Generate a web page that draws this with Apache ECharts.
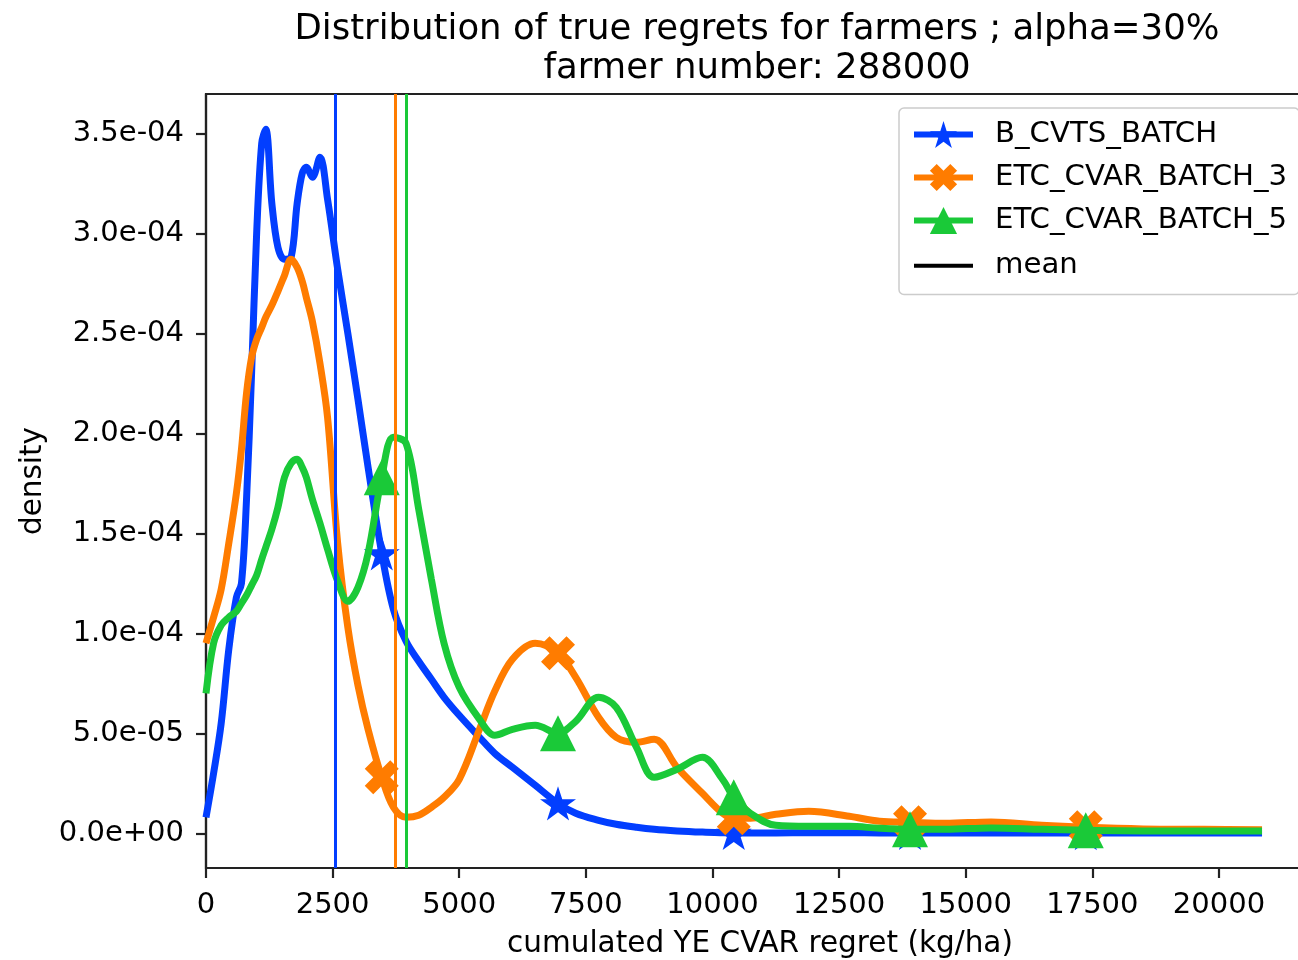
<!DOCTYPE html>
<html>
<head>
<meta charset="utf-8">
<title>Distribution of true regrets for farmers</title>
<script src="https://cdn.jsdelivr.net/npm/echarts@6/dist/echarts.min.js"></script>
<style>
    html, body { margin: 0; padding: 0; background: #fff; }
    #main { width: 1298px; height: 960px; }
</style>
</head>
<body>
<div id="main"></div>
<script>
// regret grid (kg/ha) where the densities were read
var regretX = [0, 150, 300, 450, 600, 700, 800, 900, 1000, 1100, 1180, 1300, 1420, 1550, 1680, 1800, 1900, 1980,
    2100, 2250, 2400, 2600, 2800, 3000, 3200, 3470, 3700, 3950, 4200, 4450, 4700, 5000, 5400, 5700, 6050, 6500,
    6950, 7300, 7750, 8100, 8500, 8850, 9300, 9800, 10200, 10420, 10750, 11250, 11900, 12700, 13300, 13900,
    14600, 15500, 16500, 17370, 18500, 19700, 20850];

// densities, in units of 1e-4
var densityBCvts = [0.08, 0.30, 0.55, 0.92, 1.18, 1.25, 1.67, 2.30, 3.00, 3.45, 3.52, 3.15, 2.93, 2.87, 2.88, 3.15,
    3.30, 3.33, 3.28, 3.38, 3.17, 2.82, 2.50, 2.17, 1.83, 1.40, 1.12, 0.96, 0.86, 0.77, 0.68, 0.59, 0.48, 0.40,
    0.33, 0.24, 0.15, 0.10, 0.065, 0.045, 0.03, 0.02, 0.012, 0.006, 0.003, 0.002, 0.002, 0.002, 0.003, 0.003,
    0.002, 0.002, 0.002, 0.002, 0.001, 0.001, 0.001, 0.001, 0.001];
var densityEtc3 = [0.95, 1.08, 1.22, 1.45, 1.70, 1.92, 2.20, 2.38, 2.47, 2.53, 2.58, 2.64, 2.71, 2.79, 2.87, 2.83,
    2.76, 2.68, 2.56, 2.35, 2.08, 1.45, 1.03, 0.74, 0.52, 0.28, 0.13, 0.08, 0.09, 0.13, 0.18, 0.27, 0.52, 0.71,
    0.87, 0.95, 0.90, 0.78, 0.58, 0.48, 0.455, 0.47, 0.33, 0.20, 0.10, 0.075, 0.075, 0.095, 0.11, 0.085, 0.06,
    0.055, 0.05, 0.057, 0.04, 0.03, 0.022, 0.02, 0.018];
var densityEtc5 = [0.70, 0.95, 1.04, 1.08, 1.11, 1.15, 1.19, 1.24, 1.29, 1.37, 1.43, 1.52, 1.63, 1.78, 1.85, 1.87,
    1.83, 1.78, 1.67, 1.55, 1.42, 1.26, 1.16, 1.23, 1.40, 1.78, 1.98, 1.95, 1.62, 1.27, 0.95, 0.73, 0.57, 0.49,
    0.52, 0.54, 0.50, 0.56, 0.68, 0.63, 0.43, 0.28, 0.32, 0.38, 0.27, 0.18, 0.10, 0.04, 0.035, 0.035, 0.025,
    0.02, 0.02, 0.027, 0.02, 0.015, 0.012, 0.012, 0.012];

// mean regret of each algorithm
var meanBCvts = 2551;
var meanEtc3 = 3741;
var meanEtc5 = 3959;

// points that carry a marker
var markerX = [3470, 6950, 10420, 13900, 17370];

var xTicks = [0, 2500, 5000, 7500, 10000, 12500, 15000, 17500, 20000];
var yTicks = [0, 0.5, 1.0, 1.5, 2.0, 2.5, 3.0, 3.5];

var blue = '#023eff', orange = '#ff7c00', green = '#1ac938';
var font = 'DejaVu Sans';
var starPath = 'path://M0,-1 L0.2245,-0.309 L0.951,-0.309 L0.363,0.118 L0.588,0.809 L0,0.382 L-0.588,0.809 L-0.363,0.118 L-0.951,-0.309 L-0.2245,-0.309 Z';
var crossPath = 'path://M2,-4 L0,-2 L-2,-4 L-4,-2 L-2,0 L-4,2 L-2,4 L0,2 L2,4 L4,2 L2,0 L4,-2 Z';
var meanIcon = 'path://M0,0 L0.1,0 L0.1,0.1 Z M0,15 L60,15 L60,19 L0,19 Z M0,34 L0.1,34 L0.1,33.9 Z';

function toPairs(ys) {
    return regretX.map(function (x, i) {
        return [x, ys[i] * 1e-4];
    });
}

function markerSize(size) {
    return function (v) {
        return markerX.indexOf(v[0]) >= 0 ? size : 0;
    };
}

function sci(v) {
    return v.toExponential(1).replace(/e([+-])(\d)$/, 'e$10$2');
}

function curve(name, ys, color, symbol, size, z) {
    return {
        name: name,
        type: 'line',
        z: z,
        smooth: 0.35,
        data: toPairs(ys),
        symbol: symbol,
        symbolKeepAspect: true,
        symbolSize: markerSize(size),
        showSymbol: true,
        lineStyle: {width: 7, color: color},
        itemStyle: {color: color},
        emphasis: {disabled: true}
    };
}

var myChart = echarts.init(document.getElementById('main'));
var option = {
    animation: false,
    backgroundColor: '#fff',
    title: {
        text: 'Distribution of true regrets for farmers ; alpha=30%\nfarmer number: 288000',
        left: 752,
        top: 5,
        textAlign: 'center',
        textStyle: {fontFamily: font, fontSize: 35.5, fontWeight: 'normal', color: '#000', lineHeight: 39}
    },
    legend: {
        left: 899,
        top: 108,
        orient: 'vertical',
        padding: [12, 12, 12, 12],
        itemWidth: 59,
        itemHeight: 34,
        itemGap: 14,
        backgroundColor: 'rgba(255,255,255,0.85)',
        borderColor: '#cccccc',
        borderWidth: 1.5,
        borderRadius: 5,
        lineStyle: {width: 6},
        textStyle: {fontFamily: font, fontSize: 29.2, color: '#000', padding: [0, 0, 0, 17]},
        data: [
            {name: 'B_CVTS_BATCH'},
            {name: 'ETC_CVAR_BATCH_3'},
            {name: 'ETC_CVAR_BATCH_5'},
            {name: 'mean', icon: meanIcon}
        ]
    },
    grid: {
        left: 206,
        top: 94,
        width: 1108,
        height: 774,
        show: true,
        borderColor: '#222',
        borderWidth: 2.2,
        outerBoundsMode: 'none'
    },
    xAxis: {
        type: 'value',
        min: 0,
        max: 21876,
        name: 'cumulated YE CVAR regret (kg/ha)',
        nameLocation: 'middle',
        nameGap: 61,
        nameTextStyle: {fontFamily: font, fontSize: 29.5, color: '#000'},
        axisLine: {onZero: false, lineStyle: {color: '#222', width: 2.2}},
        axisTick: {show: true, length: 10, customValues: xTicks, lineStyle: {color: '#222', width: 2.2}},
        axisLabel: {
            customValues: xTicks,
            margin: 23,
            fontFamily: font,
            fontSize: 29,
            color: '#000',
            formatter: function (v) { return String(v); }
        },
        splitLine: {show: false}
    },
    yAxis: {
        type: 'value',
        min: -1.735e-5,
        max: 3.6965e-4,
        name: 'density',
        nameLocation: 'middle',
        nameGap: 158,
        nameTextStyle: {fontFamily: font, fontSize: 29.5, color: '#000'},
        axisLine: {show: true, onZero: false, lineStyle: {color: '#222', width: 2.2}},
        axisTick: {show: true, length: 10, customValues: yTicks.map(function (t) { return t * 1e-4; }),
            lineStyle: {color: '#222', width: 2.2}},
        axisLabel: {
            customValues: yTicks.map(function (t) { return t * 1e-4; }),
            margin: 22,
            fontFamily: font,
            fontSize: 29,
            color: '#000',
            formatter: function (v) { return sci(v); }
        },
        splitLine: {show: false}
    },
    series: [
        curve('B_CVTS_BATCH', densityBCvts, blue, starPath, 36, 2),
        curve('ETC_CVAR_BATCH_3', densityEtc3, orange, crossPath, 34, 3),
        curve('ETC_CVAR_BATCH_5', densityEtc5, green, 'triangle', 36, 4),
        {
            name: 'mean',
            type: 'line',
            z: 6,
            data: [],
            lineStyle: {color: '#000', width: 4},
            itemStyle: {color: '#000'},
            markLine: {
                silent: true,
                animation: false,
                symbol: ['none', 'none'],
                label: {show: false},
                lineStyle: {type: 'solid', width: 3},
                data: [
                    {xAxis: meanBCvts, lineStyle: {color: blue, type: 'solid', width: 3}},
                    {xAxis: meanEtc3, lineStyle: {color: orange, type: 'solid', width: 3}},
                    {xAxis: meanEtc5, lineStyle: {color: green, type: 'solid', width: 3}}
                ]
            }
        }
    ]
};
myChart.setOption(option);
</script>
</body>
</html>
